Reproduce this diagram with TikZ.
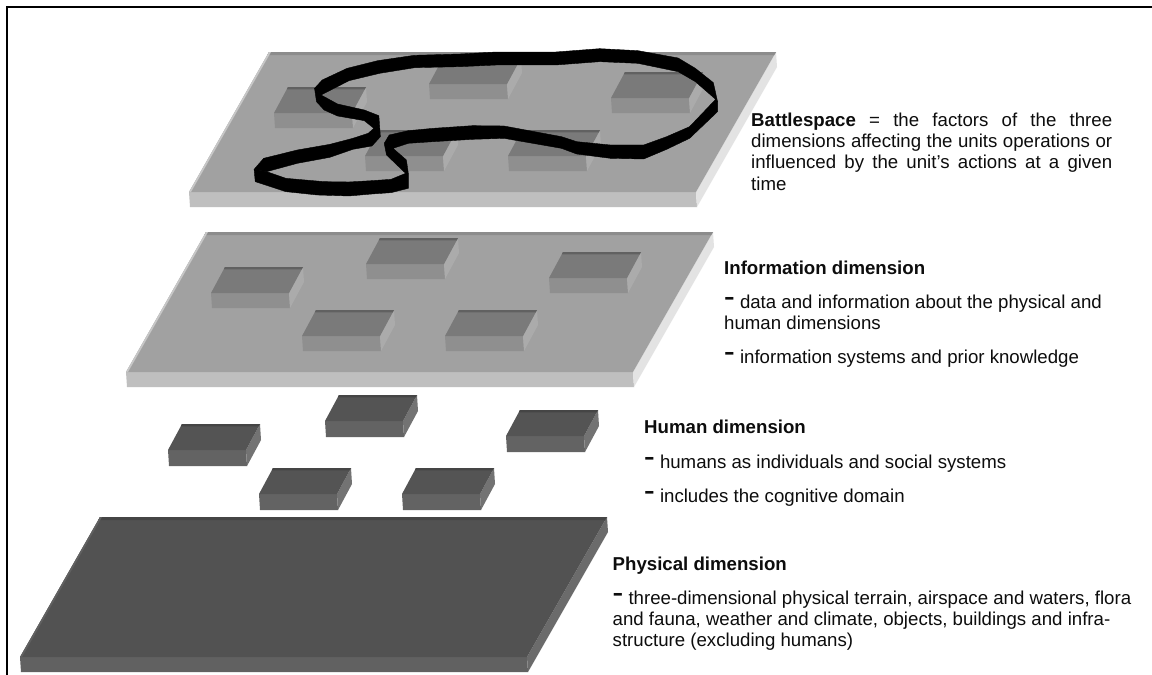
\documentclass[tikz,border=0pt]{standalone}
\usepackage{fontspec}
\setmainfont{Liberation Sans}
\newcommand{\BlockDraw}[8]{% x, y, width, thick, top, front, side, back
  \fill[#6] (#1,#2) -- ++(#3,0) -- ++(1,#4) -- ++(-#3,0) -- cycle;
  \fill[#7] (#1+#3,#2) -- ++(14,-26) -- ++(1,#4) -- ++(-14,26) -- cycle;
  \fill[#5] (#1,#2) -- ++(#3,0) -- ++(14,-26) -- ++(-#3,0) -- cycle;
  \fill[#8] (#1+14,#2-26) -- ++(#3,0) -- ++(-1.3,2.4) -- ++(-#3,0) -- cycle;
}
\newcommand{\SlabDraw}[7]{% x, y, top, front, side, back, left
  \fill[#4] (#1,#2) -- ++(507,0) -- ++(1,15) -- ++(-507,0) -- cycle;
  \fill[#5] (#1+507,#2) -- ++(80,-140) -- ++(1,15) -- ++(-80,140) -- cycle;
  \fill[#3] (#1,#2) -- ++(507,0) -- ++(80,-140) -- ++(-507,0) -- cycle;
  \fill[#6] (#1+80,#2-140) -- ++(507,0) -- ++(-1.7,3) -- ++(-507,0) -- cycle;
  \fill[#7] (#1,#2) -- ++(80,-140) -- ++(2,0) -- ++(-80,140) -- cycle;
}
\tikzset{
  txt/.style={anchor=base west,inner sep=0pt,font=\fontsize{18.65}{21.3}\selectfont,text=black!95},
  para/.style={anchor=north west,inner sep=0pt,align=left,font=\fontsize{18.65}{21.3}\selectfont,text=black!95},
  frameline/.style={line width=2pt,black},
  ribbon/.style={fill=black,draw=black,line width=0.4pt,line join=round}
}
\newcommand{\dashmark}{{\bfseries\fontsize{22}{22}\selectfont\raisebox{3.5pt}{\scalebox{1.45}[1]{-}}}}
\begin{document}
\begin{tikzpicture}[x=1pt,y=-1pt]
\useasboundingbox (0,0) rectangle (1152,675);
\fill[white] (0,0) rectangle (1152,675);
\draw[frameline] (1152,6.7) -- (6.7,6.7) -- (6.7,675);

% physical
\SlabDraw{20}{657}{black!68}{black!62}{black!58}{black!73}{black!62}
% human blocks
\foreach \bx/\by in {168/450,325/421,506/436,259/494,402/494}
  \BlockDraw{\bx}{\by}{78}{16}{black!67}{black!61}{black!55}{black!73};
% information
\SlabDraw{126}{372}{black!37}{black!25}{black!11}{black!45}{black!22}
\foreach \bx/\by in {211/293,366/264,549/278,302/336,445/336}
  \BlockDraw{\bx}{\by}{78}{15}{black!52}{black!44}{black!33}{black!62};
% battlespace
\SlabDraw{189}{192}{black!37}{black!25}{black!11}{black!45}{black!22}
\foreach \bx/\by in {274/113,429/84,611/98,365/156,508/156}
  \BlockDraw{\bx}{\by}{78}{15}{black!52}{black!44}{black!33}{black!62};

% ribbon
\begin{scope}[shift={(150,30)},x=0.3827pt,y=-0.3333pt]
\path[ribbon] (430,175)--(450,150)--(515,115)--(595,92)--(690,76)--(810,72)--(905,66)--(1060,66)--(1175,56)--(1275,62)--(1380,84)--(1425,115)--(1472,158)--(1483,215)--(1478,208)--(1425,155)--(1380,125)--(1275,100)--(1175,95)--(1060,105)--(905,105)--(810,110)--(692,113)--(600,130)--(520,152)--(447,195)--cycle;
\path[ribbon] (1478,208)--(1410,290)--(1350,320)--(1290,345)--(1203,345)--(1115,335)--(1075,320)--(925,288)--(843,287)--(740,295)--(675,302)--(625,315)--(612,340)--(618,375)--(668,430)--(630,448)--(580,452)--(520,456)--(455,455)--(355,445)--(305,425)--(272,418)--(275,455)--(355,485)--(437,495)--(520,498)--(580,492)--(630,488)--(675,475)--(675,430)--(670,390)--(635,355)--(675,340)--(740,335)--(843,328)--(925,325)--(1075,355)--(1115,372)--(1203,385)--(1290,387)--(1350,358)--(1410,325)--(1483,245)--(1483,215)--cycle;
\path[ribbon] (272,418)--(297,385)--(385,360)--(470,343)--(530,325)--(570,310)--(585,295)--(560,272)--(490,258)--(455,240)--(435,215)--(430,175)--(447,195)--(490,222)--(560,240)--(598,257)--(602,320)--(580,348)--(530,358)--(470,382)--(385,400)--(305,425)--cycle;
\end{scope}

% texts
\node[para] (battle) at (751,111.1) {\strut\makebox[361pt][s]{\textbf{Battlespace} = the factors of the three}\\
\makebox[361pt][s]{dimensions affecting the units operations or}\\
\makebox[361pt][s]{influenced by the unit’s actions at a given}\\
time};
\node[txt] (infohead) at (724,274) {\textbf{Information dimension}};
\node[para] (info1) at (724,293.1) {\strut\dashmark\ data and information about the physical and\\human dimensions};
\node[txt] (info2) at (724,363) {\dashmark\ information systems and prior knowledge};
\node[txt] (humanhead) at (644,433) {\textbf{Human dimension}};
\node[txt] (human1) at (644,468) {\dashmark\ humans as individuals and social systems};
\node[txt] (human2) at (644,502) {\dashmark\ includes the cognitive domain};
\node[txt] (physhead) at (612.5,570) {\textbf{Physical dimension}};
\node[para] (phys1) at (612.5,589.1) {\strut\dashmark\ three-dimensional physical terrain, airspace and waters, flora\\and fauna, weather and climate, objects, buildings and infra-\\structure (excluding humans)};
\end{tikzpicture}
\end{document}
